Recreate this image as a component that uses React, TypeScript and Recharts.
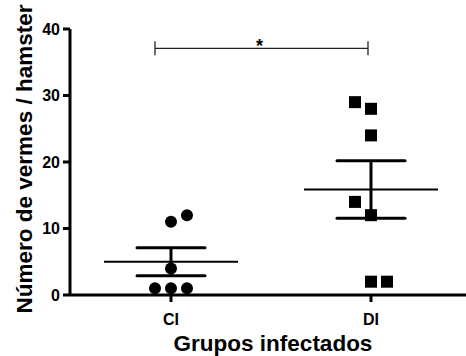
import React from 'react';
import {
  ComposedChart,
  Scatter,
  XAxis,
  YAxis,
  ReferenceLine,
  Label,
} from 'recharts';

const groups = ['CI', 'DI'];
const ciValues = [12, 11, 4, 1, 1, 1];
const diValues = [29, 28, 24, 14, 12, 2, 2];
// horizontal jitter slot of each point (same order as the values)
const ciSlots = [1, 0, 0, -1, 0, 1];
const diSlots = [-1, 0, 0, -1, 0, 0, 1];
const yTicks = [0, 10, 20, 30, 40];

const FONT = '"Liberation Sans", Arial, sans-serif';
const X_DOMAIN = [0.495, 2.475];
const SLOT = 0.08;
const MEAN_HALF = 0.335;
const CAP_HALF = 0.17;
const AXIS_W = 3;
const TICK = 7;

const mean = (v: number[]) => v.reduce((a, b) => a + b, 0) / v.length;
const sem = (v: number[]) => {
  const m = mean(v);
  const sd = Math.sqrt(v.reduce((a, b) => a + (b - m) * (b - m), 0) / (v.length - 1));
  return sd / Math.sqrt(v.length);
};

const toPoints = (vals: number[], slots: number[], center: number) =>
  vals.map((y, i) => ({ x: center + slots[i] * SLOT, y }));

const ciData = toPoints(ciValues, ciSlots, 1);
const diData = toPoints(diValues, diSlots, 2);

const Dot = (props: any) => <circle cx={props.cx} cy={props.cy} r={6} fill="#000" />;
const Square = (props: any) => (
  <rect x={props.cx - 6} y={props.cy - 6} width={12} height={12} fill="#000" />
);

const stats = [
  { x: 1, m: mean(ciValues), e: sem(ciValues) },
  { x: 2, m: mean(diValues), e: sem(diValues) },
];

function YTick(props: any) {
  const { x, y, payload } = props;
  const ax = x + 3 + TICK;
  return (
    <g>
      <line x1={ax - TICK} x2={ax} y1={y} y2={y} stroke="#000" strokeWidth={AXIS_W} />
      <text x={x} y={y + 5.5} textAnchor="end" fill="#000" fontSize={16} fontWeight={700} fontFamily={FONT}>
        {payload.value}
      </text>
    </g>
  );
}

function XTick(props: any) {
  const { x, y, payload } = props;
  const ay = y - 11 - TICK;
  return (
    <g>
      <line x1={x} x2={x} y1={ay} y2={ay + TICK} stroke="#000" strokeWidth={AXIS_W} />
      <text x={x} y={y + 12} textAnchor="middle" fill="#000" fontSize={16} fontWeight={700} fontFamily={FONT}>
        {groups[payload.value - 1]}
      </text>
    </g>
  );
}

const App: React.FC = () => {
  const bracketY = 37.1;
  const bx1 = 0.92;
  const bx2 = 1.985;
  return (
    <div style={{ position: 'absolute', left: 0, top: 0, background: '#fff' }}>
      <ComposedChart
        width={466}
        height={356}
        margin={{ top: 29, right: 0, left: 0, bottom: 0 }}
        style={{ fontFamily: FONT }}
      >
        <XAxis
          dataKey="x"
          type="number"
          domain={X_DOMAIN}
          ticks={[1, 2]}
          allowDataOverflow
          height={61}
          axisLine={{ stroke: '#000', strokeWidth: AXIS_W }}
          tickLine={false}
          tickSize={TICK}
          tickMargin={11}
          tick={XTick}
        >
          <Label
            value="Grupos infectados"
            position="insideBottom"
            offset={5}
            dx={5}
            style={{ fill: '#000', stroke: 'none', fontSize: 22.5, fontWeight: 700, fontFamily: FONT }}
          />
        </XAxis>
        <YAxis
          type="number"
          domain={[0, 40]}
          ticks={yTicks}
          width={70}
          axisLine={{ stroke: '#000', strokeWidth: AXIS_W }}
          tickLine={false}
          tickSize={TICK}
          tickMargin={3}
          tick={YTick}
        >
          <Label
            value="Número de vermes / hamster"
            angle={-90}
            position="insideLeft"
            offset={24}
            dy={-3}
            style={{ textAnchor: 'middle', fill: '#000', stroke: 'none', fontSize: 22.5, fontWeight: 700, fontFamily: FONT }}
          />
        </YAxis>

        {stats.map((s) => (
          <ReferenceLine
            key={'mean' + s.x}
            segment={[{ x: s.x - MEAN_HALF, y: s.m }, { x: s.x + MEAN_HALF, y: s.m }]}
            stroke="#000"
            strokeWidth={2}
          />
        ))}
        {stats.map((s) => (
          <ReferenceLine
            key={'v' + s.x}
            segment={[{ x: s.x, y: s.m - s.e }, { x: s.x, y: s.m + s.e }]}
            stroke="#000"
            strokeWidth={3}
          />
        ))}
        {stats.map((s) => (
          <ReferenceLine
            key={'top' + s.x}
            segment={[{ x: s.x - CAP_HALF, y: s.m + s.e }, { x: s.x + CAP_HALF, y: s.m + s.e }]}
            stroke="#000"
            strokeWidth={3}
            strokeLinecap="round"
          />
        ))}
        {stats.map((s) => (
          <ReferenceLine
            key={'bot' + s.x}
            segment={[{ x: s.x - CAP_HALF, y: s.m - s.e }, { x: s.x + CAP_HALF, y: s.m - s.e }]}
            stroke="#000"
            strokeWidth={3}
            strokeLinecap="round"
          />
        ))}

        <ReferenceLine
          segment={[{ x: bx1, y: bracketY }, { x: bx2, y: bracketY }]}
          stroke="#222"
          strokeWidth={1.3}
        >
          <Label
            value="*"
            position="top"
            offset={-4}
            dx={-2}
            style={{ fill: '#000', stroke: 'none', fontSize: 18, fontWeight: 700, fontFamily: FONT }}
          />
        </ReferenceLine>
        <ReferenceLine
          segment={[{ x: bx1, y: bracketY - 1.05 }, { x: bx1, y: bracketY + 1.05 }]}
          stroke="#222"
          strokeWidth={1.3}
        />
        <ReferenceLine
          segment={[{ x: bx2, y: bracketY - 1.05 }, { x: bx2, y: bracketY + 1.05 }]}
          stroke="#222"
          strokeWidth={1.3}
        />

        <Scatter data={ciData} dataKey="y" shape={Dot} isAnimationActive={false} />
        <Scatter data={diData} dataKey="y" shape={Square} isAnimationActive={false} />
      </ComposedChart>
    </div>
  );
};

export default App;
